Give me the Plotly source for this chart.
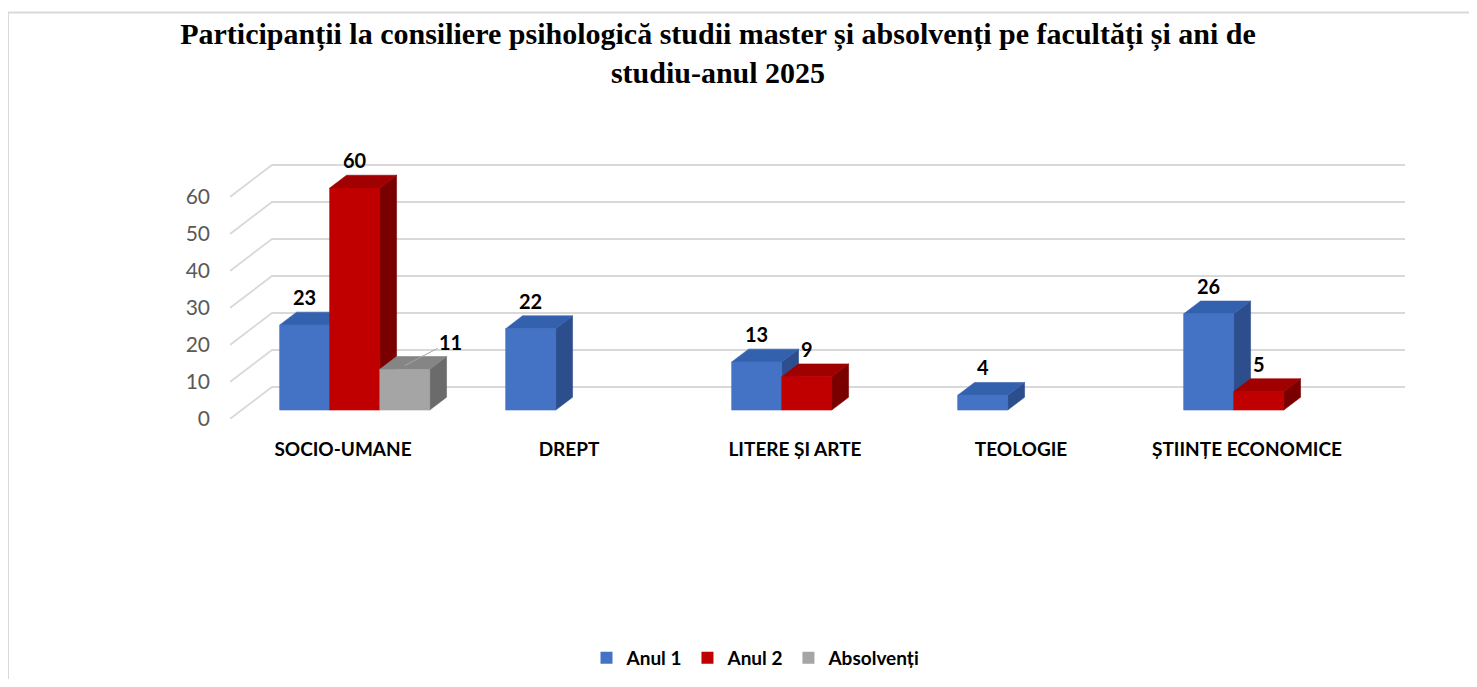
import plotly.graph_objects as go

# ---------------- data ----------------
categories = ["SOCIO-UMANE", "DREPT", "LITERE ȘI ARTE", "TEOLOGIE", "ȘTIINȚE ECONOMICE"]
anul1 = [23, 22, 13, 4, 26]
anul2 = [60, None, 9, None, 5]
absolventi = [11, None, None, None, None]
series_names = ["Anul 1", "Anul 2", "Absolvenți"]
y_ticks = [0, 10, 20, 30, 40, 50, 60]
title_text = ("<b>Participanții la consiliere psihologică studii master și absolvenți pe facultăți și ani de"
              "<br>studiu-anul 2025</b>")

# ---------------- styling / geometry ----------------
OFF = 8                    # page body margin
W, H = 1477 - 2 * OFF, 687 - 2 * OFF
PL, PR, PT, PB = 230 - OFF, 1405 - OFF, 160 - OFF, 419 - OFF   # plot area in px
CAT_PX = 226.0                                 # px per category on front plane
PX_PER_UNIT = 3.7                              # px per value unit
X0 = -0.5
XMAX = X0 + (PR - PL) / CAT_PX
YMAX = (PB - PT) / PX_PER_UNIT

DX = 42 / CAT_PX          # floor depth (x, in category units)
DY = 32 / PX_PER_UNIT     # floor depth (y, in value units)
F0 = 0.28                 # depth at which bar fronts sit
FD = 0.40                 # bar depth as fraction of floor depth
BW = 50 / CAT_PX          # bar width
ddx, ddy = FD * DX, FD * DY

front_cols = ["#4472C4", "#C00000", "#A5A5A5"]
top_cols = ["#3461AE", "#A00000", "#858585"]
side_cols = ["#2D4E8C", "#7A0000", "#6B6B6B"]
grid_col = "#D9D9D9"
label_font = "Lato, Calibri, Carlito, Arial, sans-serif"


def px_x(p):
    return (p - OFF - PL) / (PR - PL)


def px_y(p):
    return (PB - (p - OFF)) / (PB - PT)


fig = go.Figure()
series = [anul1, anul2, absolventi]

# front-face bars (library bars, also provide legend)
for j, (name, vals) in enumerate(zip(series_names, series)):
    xs = [i + F0 * DX + (j - 1) * BW for i in range(len(categories))]
    fig.add_trace(go.Bar(
        x=xs, y=vals, base=F0 * DY, width=BW, name=name,
        marker=dict(color=front_cols[j], line=dict(width=0)),
        hoverinfo="skip",
    ))

# 3D faces drawn left-to-right so that nearer bars overlap correctly
annotations = []
for i in range(len(categories)):
    for j, vals in enumerate(series):
        v = vals[i]
        if v is None:
            continue
        xc = i + F0 * DX + (j - 1) * BW
        xl, xr = xc - BW / 2, xc + BW / 2
        b = F0 * DY
        t = b + v
        faces = [
            ([xr, xr + ddx, xr + ddx, xr, xr], [b, b + ddy, t + ddy, t, b], side_cols[j]),
            ([xl, xr, xr + ddx, xl + ddx, xl], [t, t, t + ddy, t + ddy, t], top_cols[j]),
            ([xl, xr, xr, xl, xl], [b, b, t, t, b], front_cols[j]),
        ]
        for fx, fy, col in faces:
            fig.add_trace(go.Scatter(
                x=fx, y=fy, fill="toself", fillcolor=col, mode="lines",
                line=dict(color=col, width=0.6), hoverinfo="skip", showlegend=False,
            ))
        if j == 2:
            annotations.append(dict(
                x=xc, y=t + 0.3 * ddy, xref="x", yref="y", text=f"<b>{v}</b>",
                showarrow=True, arrowhead=0, arrowwidth=1, arrowcolor="#A6A6A6",
                ax=46, ay=-24, font=dict(family=label_font, size=20, color="#000000"),
            ))
        else:
            annotations.append(dict(
                x=xc, y=t + ddy, xref="x", yref="y", text=f"<b>{v}</b>",
                showarrow=False, yanchor="bottom", yshift=1,
                font=dict(family=label_font, size=20, color="#000000"),
            ))

# gridlines: diagonal side wall + back wall
shapes = []
for v in y_ticks:
    shapes.append(dict(
        type="path", xref="x", yref="y", layer="below",
        path=f"M {X0},{v} L {X0 + DX},{v + DY} L {XMAX},{v + DY}",
        line=dict(color=grid_col, width=1.8),
    ))

# chart frame (left and top edge)
shapes.append(dict(type="line", xref="paper", yref="paper",
                   x0=px_x(8), x1=px_x(1477), y0=px_y(12.5), y1=px_y(12.5),
                   line=dict(color="#D9D9D9", width=2)))
shapes.append(dict(type="line", xref="paper", yref="paper",
                   x0=px_x(8), x1=px_x(8), y0=px_y(12.5), y1=px_y(687),
                   line=dict(color="#D9D9D9", width=2)))

fig.update_layout(
    width=W, height=H,
    margin=dict(l=PL, r=W - PR, t=PT, b=H - PB, autoexpand=False),
    paper_bgcolor="white", plot_bgcolor="white",
    barmode="overlay",
    title=dict(
        text=title_text, x=(718 - OFF) / W, xref="container", xanchor="center",
        y=1 - (44 - OFF) / H, yref="container", yanchor="top",
        font=dict(family="Times New Roman, Liberation Serif, serif", size=30, color="#000000"),
    ),
    xaxis=dict(
        range=[X0, XMAX], tickvals=list(range(len(categories))), ticktext=categories,
        showgrid=False, zeroline=False, showline=False, ticks="",
        tickfont=dict(family=label_font, size=19, color="#000000", weight="bold"),
        ticklabelstandoff=17, fixedrange=True,
    ),
    yaxis=dict(
        range=[0, YMAX], tickvals=y_ticks, showgrid=False, zeroline=False,
        showline=False, ticks="", ticklabelstandoff=19,
        tickfont=dict(family=label_font, size=21, color="#595959"), fixedrange=True,
    ),
    legend=dict(
        orientation="h", xref="container", yref="container",
        x=(756 - OFF) / W, xanchor="center", y=1 - (658 - OFF) / H, yanchor="middle",
        font=dict(family=label_font, size=19, color="#000000", weight="bold"),
        itemwidth=30, traceorder="normal",
    ),
    annotations=annotations,
    shapes=shapes,
    showlegend=True,
)

fig.write_html("out.html")
